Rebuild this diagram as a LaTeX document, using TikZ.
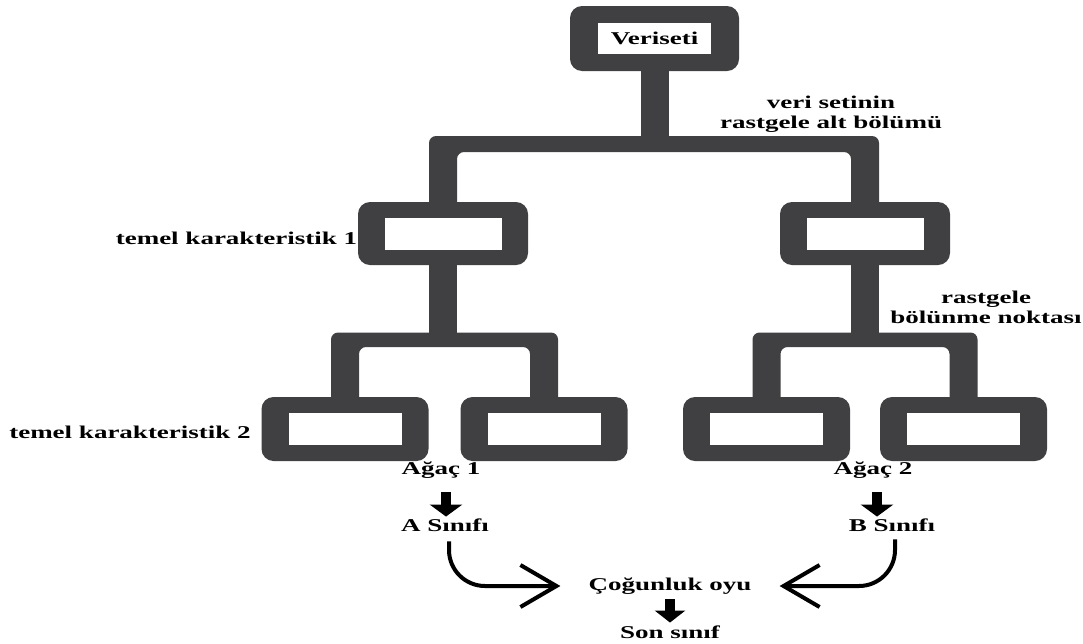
\documentclass[tikz,border=0pt]{standalone}
\usepackage{fontspec}
\setmainfont{Liberation Serif}[FakeStretch=1.5]
\usetikzlibrary{arrows.meta,calc}
\definecolor{ink}{RGB}{64,64,66}
\pgfdeclarelayer{bg}
\pgfsetlayers{bg,main}
\begin{document}
\begin{tikzpicture}[x=1pt,y=-1pt,
  obox/.style={fill=ink, rounded corners=12pt, inner sep=0pt},
  ibox/.style={fill=white, inner sep=0pt, font=\fontsize{18}{20}\selectfont\bfseries},
  lab/.style={inner sep=0pt, font=\fontsize{18}{20}\selectfont\bfseries, text height=12.5pt, text depth=4pt},
  mlab/.style={inner sep=0pt, font=\fontsize{18}{20}\selectfont\bfseries, align=center},
  tree/.style={fill=ink, rounded corners=7pt},
  blockarrow/.style={line width=10pt, -{Triangle[length=12pt,width=32pt]}},
  curvarrow/.style={line width=4pt, rounded corners=36pt, -{Straight Barb[length=36pt,width=42pt]}},
]
\useasboundingbox (0,0) rectangle (1083,643);

% boxes
\node[obox, minimum width=169pt, minimum height=65pt] (top) at (654.5,38.5) {};
\node[ibox, minimum width=113pt, minimum height=31pt] (topin) at (top.center) {Veriseti};
\node[obox, minimum width=170pt, minimum height=63pt] (l1) at (443,233.5) {};
\node[ibox, minimum width=117pt, minimum height=32pt] (l1in) at (l1.center) {};
\node[obox, minimum width=170pt, minimum height=63pt] (r1) at (865,233.5) {};
\node[ibox, minimum width=117pt, minimum height=32pt] (r1in) at (r1.center) {};
\node[obox, minimum width=167pt, minimum height=64pt] (ll) at (345,429) {};
\node[ibox, minimum width=113pt, minimum height=32pt] (llin) at (ll.center) {};
\node[obox, minimum width=167pt, minimum height=64pt] (lr) at (544,429) {};
\node[ibox, minimum width=113pt, minimum height=32pt] (lrin) at (lr.center) {};
\node[obox, minimum width=167pt, minimum height=64pt] (rl) at (766.5,429) {};
\node[ibox, minimum width=113pt, minimum height=32pt] (rlin) at (rl.center) {};
\node[obox, minimum width=167pt, minimum height=64pt] (rr) at (963.5,429) {};
\node[ibox, minimum width=113pt, minimum height=32pt] (rrin) at (rr.center) {};

\coordinate (b1t) at (654,136);
\coordinate (b1b) at (654,152);
\coordinate (b2t) at (0,332.5);
\coordinate (b2b) at (0,347);

\begin{pgfonlayer}{bg}
\fill[white] (0,0) rectangle (1083,643);
\fill[ink] ([xshift=-14pt]top.center) rectangle ([xshift=14pt]top.center |- b1b);
\fill[tree] ([xshift=-14pt]l1.center) -- ([xshift=-14pt]l1.center |- b1t) -- ([xshift=14pt]r1.center |- b1t) -- ([xshift=14pt]r1.center) -- ([xshift=-14pt]r1.center) -- ([xshift=-14pt]r1.center |- b1b) -- ([xshift=14pt]l1.center |- b1b) -- ([xshift=14pt]l1.center) -- cycle;
\fill[ink] ([xshift=-14pt]l1.center) rectangle ([xshift=14pt]l1.center |- b2b);
\fill[ink] ([xshift=-14pt]r1.center) rectangle ([xshift=14pt]r1.center |- b2b);
\fill[tree] ([xshift=-14pt]ll.center) -- ([xshift=-14pt]ll.center |- b2t) -- ([xshift=14pt]lr.center |- b2t) -- ([xshift=14pt]lr.center) -- ([xshift=-14pt]lr.center) -- ([xshift=-14pt]lr.center |- b2b) -- ([xshift=14pt]ll.center |- b2b) -- ([xshift=14pt]ll.center) -- cycle;
\fill[tree] ([xshift=-14pt]rl.center) -- ([xshift=-14pt]rl.center |- b2t) -- ([xshift=14pt]rr.center |- b2t) -- ([xshift=14pt]rr.center) -- ([xshift=-14pt]rr.center) -- ([xshift=-14pt]rr.center |- b2b) -- ([xshift=14pt]rl.center |- b2b) -- ([xshift=14pt]rl.center) -- cycle;
\end{pgfonlayer}

% labels
\node[lab] (k1) at (236.5,240) {temel karakteristik 1};
\node[lab] (k2) at (130,434) {temel karakteristik 2};
\node[mlab] (vs) at (831,114) {veri setinin\\rastgele alt bölümü};
\node[mlab] (rb) at (986,307) {rastgele\\bölünme noktası};
\node[lab] (a1) at (441,470) {Ağaç 1};
\node[lab] (a2) at (873,470) {Ağaç 2};
\node[lab] (as) at (445,527) {A Sınıfı};
\node[lab] (bs) at (892,527) {B Sınıfı};
\node[lab] (co) at (670,586) {Çoğunluk oyu};
\node[lab] (son) at (670,634) {Son sınıf};

% arrows
\draw[blockarrow, shorten <=14pt, shorten >=2pt] ([xshift=5pt]a1.south) -- ([xshift=5pt]a1.south |- as.north);
\draw[blockarrow, shorten <=14pt, shorten >=2pt] ([xshift=4pt]a2.south) -- ([xshift=4pt]a2.south |- bs.north);
\draw[line width=10pt, -{Triangle[length=12pt,width=30pt]}, shorten <=5pt, shorten >=3pt] (co.south) -- (son.north);
\draw[curvarrow, shorten <=6pt, shorten >=28pt] ([xshift=4pt]as.south) |- (co.west);
\draw[curvarrow, shorten <=4pt, shorten >=28pt] ([xshift=3pt]bs.south) |- (co.east);
\end{tikzpicture}
\end{document}
